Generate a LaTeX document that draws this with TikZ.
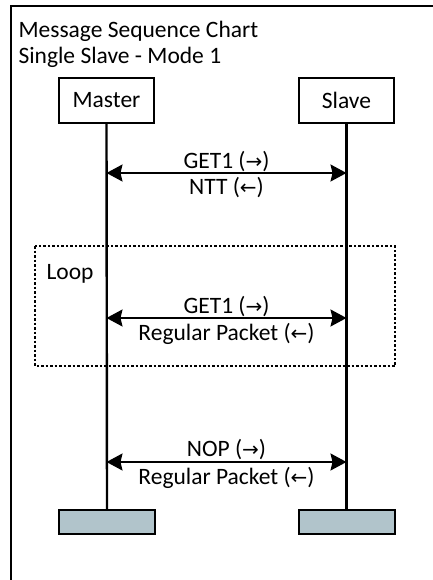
\documentclass[tikz,border=0pt]{standalone}
\usepackage{fontspec}
\setmainfont{Carlito}
\newfontfamily\arrowfont{DejaVu Sans}
\usetikzlibrary{arrows.meta}
\usetikzlibrary{calc}
\usetikzlibrary{positioning}
\definecolor{endgray}{RGB}{177,196,203}
\newcommand{\rarr}{{\arrowfont\fontsize{20}{22}\selectfont →}}
\newcommand{\larr}{{\arrowfont\fontsize{20}{22}\selectfont ←}}
\tikzset{
  actor/.style={draw, line width=2pt, minimum width=95pt, minimum height=45pt, inner sep=0pt},
  endbar/.style={draw, line width=2pt, fill=endgray, minimum width=96pt, minimum height=24pt, inner sep=0pt},
  lifeline/.style={line width=2.4pt},
  msg/.style={line width=1.8pt, {Stealth[length=16pt,width=17pt,inset=2pt]}-{Stealth[length=16pt,width=17pt,inset=2pt]}},
  msgtext/.style={anchor=base, inner sep=0pt}
}

\begin{document}
\begin{tikzpicture}[x=1pt, y=1pt, font=\fontsize{23.5}{28}\selectfont]

\useasboundingbox (0, 0) rectangle (432, -580);

\draw [line width=2pt] (11, -590) -- (11, -6) -- (440, -6);

\node [anchor=base west] (title) at (15, -38) {Message Sequence Chart};
\node [anchor=base west] (subtitle) at (15, -64) {Single Slave - Mode 1};

\node [actor] (master) at (106.5, -100.5) {Master};
\node [actor] (slave) at (346.5, -100.5) {Slave};

\node [endbar] (masterend) at (107, -522) {};
\node [endbar] (slaveend) at (346.5, -522) {};

\draw [lifeline] (master.south) -- (masterend.north);
\draw [lifeline] (slave.south) -- (slaveend.north);

\draw [line width=1.2pt, dash pattern=on 2.5pt off 2pt] (35, -246) rectangle (395, -366);
\node [anchor=base west] (loop) at (43, -279) {Loop};

\coordinate (m1) at (master.south |- 0, -173);
\coordinate (s1) at (slave.south |- 0, -173);
\coordinate (m2) at (master.south |- 0, -318);
\coordinate (s2) at (slave.south |- 0, -318);
\coordinate (m3) at (master.south |- 0, -462);
\coordinate (s3) at (slave.south |- 0, -462);

\draw [msg] (m1) -- (s1);
\draw [msg] (m2) -- (s2);
\draw [msg] (m3) -- (s3);

\node [msgtext] (req1) at ($(m1)!0.5!(s1) + (0, 5)$) {GET1 (\rarr)};
\node [msgtext] (rsp1) at ($(m1)!0.5!(s1) + (0, -21)$) {NTT (\larr)};
\node [msgtext] (req2) at ($(m2)!0.5!(s2) + (0, 5)$) {GET1 (\rarr)};
\node [msgtext] (rsp2) at ($(m2)!0.5!(s2) + (0, -22)$) {Regular Packet (\larr)};
\node [msgtext] (req3) at ($(m3)!0.5!(s3) + (0, 6)$) {NOP (\rarr)};
\node [msgtext] (rsp3) at ($(m3)!0.5!(s3) + (0, -22)$) {Regular Packet (\larr)};

\end{tikzpicture}
\end{document}
